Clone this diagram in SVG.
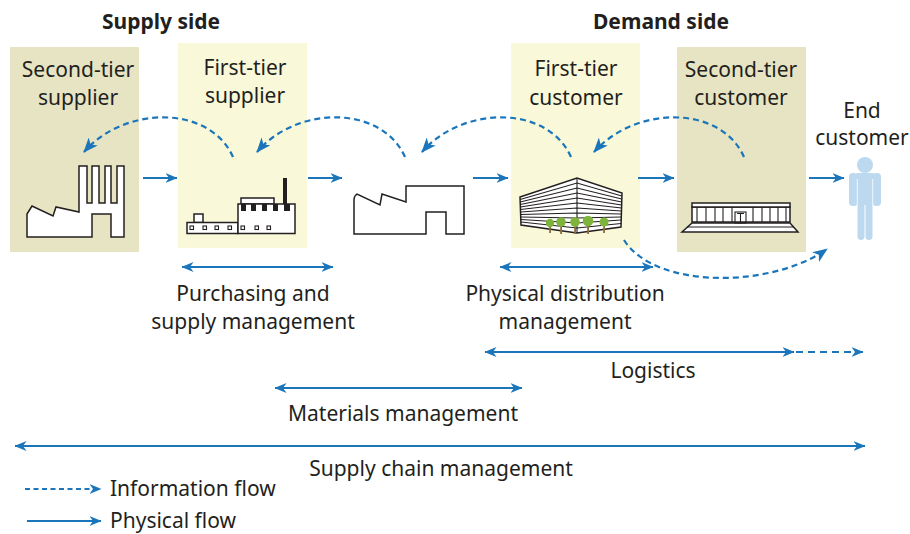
<svg xmlns="http://www.w3.org/2000/svg" width="910" height="534" viewBox="0 0 910 534">
  <style>
    .t { font-family: "Noto Sans", "Liberation Sans", sans-serif; font-size: 21px; fill: #231f20; text-anchor: middle; }
    .hd { font-weight: bold; font-size: 21px; }
    .start { text-anchor: start; }
    .tier2 { fill: #e6e4c3; }
    .tier1 { fill: #f9f8d8; }
    .ink { stroke: #231f20; stroke-width: 1.5; fill: #ffffff; stroke-linejoin: miter; }
    .thin { stroke: #231f20; stroke-width: 1.1; fill: none; }
    .flow { stroke: #1a75bb; stroke-width: 2; fill: none; }
    .info { stroke: #1a75bb; stroke-width: 2.2; fill: none; stroke-dasharray: 6 4; }
    .person { fill: #bdd9ef; }
    .leaf { fill: #7fb43c; }
    .trunk { fill: #8b6a3e; }
  </style>
  <defs>
    <marker id="head" viewBox="0 0 12 10" refX="11.5" refY="5" markerWidth="12" markerHeight="10" markerUnits="userSpaceOnUse" orient="auto-start-reverse">
      <path d="M0,0 L12,5 L0,10 L3.5,5 Z" fill="#1a75bb"/>
    </marker>
    <marker id="headL" viewBox="0 0 15 12" refX="14" refY="6" markerWidth="15" markerHeight="12" markerUnits="userSpaceOnUse" orient="auto">
      <path d="M0,0 L15,6 L0,12 L4,6 Z" fill="#1a75bb"/>
    </marker>
  </defs>

  <!-- section headings -->
  <text class="t hd" x="161" y="29">Supply side</text>
  <text class="t hd" x="661" y="29">Demand side</text>

  <!-- second-tier supplier -->
  <g id="second-tier-supplier">
    <rect class="tier2" x="10" y="47" width="129" height="205"/>
    <text class="t" x="78" y="77">Second-tier</text>
    <text class="t" x="78" y="105">supplier</text>
    <path class="ink" d="M27,237 V214 L32,206 L53,216 L56,207 L79,212 V166 H87 V203 H92 V166 H99 V203 H105 V166 H111 V203 H117 V166 H124 V237 H111 V214 H92 V237 Z"/>
  </g>

  <!-- first-tier supplier -->
  <g id="first-tier-supplier">
    <rect class="tier1" x="178" y="43" width="129" height="205"/>
    <text class="t" x="245" y="75">First-tier</text>
    <text class="t" x="245" y="103">supplier</text>
    <rect x="283" y="178" width="4" height="27" fill="#231f20"/>
    <rect class="ink" x="241" y="198" width="33" height="6"/>
    <rect class="ink" x="194" y="214" width="9" height="8.5"/>
    <rect class="ink" x="187" y="222.5" width="51" height="11"/>
    <rect class="ink" x="238" y="204" width="57" height="29.5"/>
    <g fill="#231f20">
      <rect x="241" y="204" width="5" height="7"/>
      <rect x="251" y="204" width="5" height="7"/>
      <rect x="262" y="204" width="5" height="7"/>
      <rect x="273" y="204" width="5" height="7"/>
      <rect x="284" y="204" width="6" height="7"/>
    </g>
    <g class="thin">
      <rect x="190" y="226" width="3.5" height="3.5"/>
      <rect x="203" y="226" width="3.5" height="3.5"/>
      <rect x="215" y="226" width="3.5" height="3.5"/>
      <rect x="228" y="226" width="3.5" height="3.5"/>
      <rect x="241" y="226" width="3.5" height="3.5"/>
      <rect x="255" y="226" width="3.5" height="3.5"/>
      <rect x="267" y="226" width="3.5" height="3.5"/>
    </g>
  </g>

  <!-- manufacturer -->
  <g id="manufacturer">
    <path class="ink" d="M354,234 V200 Q354,196 357,194 L380,205 L382,194 L406,202 V186 H464 V234 H446 V212 H426 V234 Z"/>
  </g>

  <!-- first-tier customer -->
  <g id="first-tier-customer">
    <rect class="tier1" x="511" y="43" width="129" height="205"/>
    <text class="t" x="576" y="76">First-tier</text>
    <text class="t" x="576" y="105">customer</text>
    <path class="ink" stroke-width="1.3" d="M520,197 L577,178 L622,193 L621,227 L577,233 L521,225 Z"/>
    <g class="thin" stroke-width="1.1">
      <path d="M577,178 V233"/>
      <path d="M520.1,199.5 L577,183 L621.9,196"/>
      <path d="M520.2,202 L577,188 L621.8,199"/>
      <path d="M520.3,204.5 L577,193 L621.7,202"/>
      <path d="M520.4,207 L577,198 L621.6,205"/>
      <path d="M520.5,209.5 L577,203 L621.5,208"/>
      <path d="M520.6,212 L577,208 L621.4,211"/>
      <path d="M520.7,214.5 L577,213 L621.3,214"/>
      <path d="M520.8,217 L577,218 L621.2,217"/>
      <path d="M520.9,219.5 L577,223 L621.1,220"/>
      <path d="M521,222 L577,228 L621.1,223.5"/>
    </g>
    <g class="trunk">
      <rect x="549.2" y="225" width="1.8" height="8"/>
      <rect x="560.2" y="225" width="1.8" height="9"/>
      <rect x="574.2" y="225" width="1.8" height="9"/>
      <rect x="587.2" y="225" width="1.8" height="9"/>
      <rect x="603.2" y="225" width="1.8" height="8"/>
    </g>
    <g class="leaf">
      <circle cx="550" cy="223" r="4.2"/>
      <circle cx="561" cy="222" r="4.8"/>
      <circle cx="575" cy="222" r="4.8"/>
      <circle cx="588" cy="221" r="5.3"/>
      <circle cx="604" cy="222" r="4.6"/>
    </g>
  </g>

  <!-- second-tier customer -->
  <g id="second-tier-customer">
    <rect class="tier2" x="677" y="47" width="129" height="205"/>
    <text class="t" x="741" y="77">Second-tier</text>
    <text class="t" x="741" y="105">customer</text>
    <path class="ink" stroke-width="1.2" d="M692,223 H790 L798,232 H682 Z"/>
    <path class="thin" d="M687,227 H794"/>
    <rect class="ink" stroke-width="1.2" x="692" y="207" width="98" height="15"/>
    <rect class="ink" stroke-width="1.2" x="692" y="203" width="98" height="4"/>
    <g class="thin">
      <path d="M697,207 V222 M706,207 V222 M715,207 V222 M723,207 V222 M732,207 V222 M753,207 V222 M762,207 V222 M770,207 V222 M778,207 V222 M786,207 V222"/>
      <rect x="735" y="212" width="11" height="11"/>
      <path d="M740.5,213.5 V223 M737,213.5 H744"/>
    </g>
  </g>

  <!-- end customer -->
  <g id="end-customer">
    <text class="t" x="862" y="118">End</text>
    <text class="t" x="862" y="145">customer</text>
    <g class="person">
      <circle cx="865" cy="165" r="8"/>
      <rect x="849" y="173" width="8.5" height="33" rx="3.8"/>
      <rect x="872.5" y="173" width="8.5" height="33" rx="3.8"/>
      <rect x="855" y="173" width="20" height="32" rx="3"/>
      <rect x="857.5" y="198" width="7" height="42" rx="3.4"/>
      <rect x="865.5" y="198" width="7" height="42" rx="3.4"/>
    </g>
    <path d="M857.3,179 V205 M872.7,179 V205" stroke="#ffffff" stroke-width="0.8"/>
  </g>

  <!-- flows between the stages -->
  <g id="connectors">
    <!-- physical flow -->
    <path class="flow" d="M143,178 H177" marker-end="url(#head)"/>
    <path class="flow" d="M308,178 H342" marker-end="url(#head)"/>
    <path class="flow" d="M473,178 H508" marker-end="url(#head)"/>
    <path class="flow" d="M638,178 H674" marker-end="url(#head)"/>
    <path class="flow" d="M809,178 H844" marker-end="url(#head)"/>

    <!-- information flow -->
    <path class="info" d="M233,157 C210,105 125,105 84,152" marker-end="url(#headL)"/>
    <path class="info" d="M405,157 C382,105 297,105 257,152" marker-end="url(#headL)"/>
    <path class="info" d="M571,157 C548,105 463,105 422,152" marker-end="url(#headL)"/>
    <path class="info" d="M744,157 C721,105 636,105 594,152" marker-end="url(#headL)"/>
    <path class="info" d="M624,240 C655,289 770,289 827,249" marker-end="url(#headL)"/>

    <!-- management spans -->
    <path class="flow" d="M182,267 H333" marker-start="url(#head)" marker-end="url(#head)"/>
    <path class="flow" d="M500,267 H653" marker-start="url(#head)" marker-end="url(#head)"/>
    <path class="flow" d="M485,352 H794" marker-start="url(#head)" marker-end="url(#head)"/>
    <path class="flow" d="M796,352 H863" stroke-dasharray="7 5" marker-end="url(#head)"/>
    <path class="flow" d="M275,388 H522" marker-start="url(#head)" marker-end="url(#head)"/>
    <path class="flow" d="M15,446 H865" marker-start="url(#head)" marker-end="url(#head)"/>
  </g>

  <!-- span labels -->
  <text class="t" x="253" y="301">Purchasing and</text>
  <text class="t" x="253" y="329">supply management</text>
  <text class="t" x="565" y="301">Physical distribution</text>
  <text class="t" x="565" y="329">management</text>
  <text class="t" x="653" y="378">Logistics</text>
  <text class="t" x="403" y="421">Materials management</text>
  <text class="t" x="441" y="476">Supply chain management</text>

  <!-- legend -->
  <g id="legend">
    <path class="flow" d="M25,489 H101" stroke-dasharray="5 3.5" stroke-width="1.8" marker-end="url(#head)"/>
    <path class="flow" d="M27,521 H101" stroke-width="1.8" marker-end="url(#head)"/>
    <text class="t start" x="110" y="496">Information flow</text>
    <text class="t start" x="110" y="528">Physical flow</text>
  </g>
</svg>
